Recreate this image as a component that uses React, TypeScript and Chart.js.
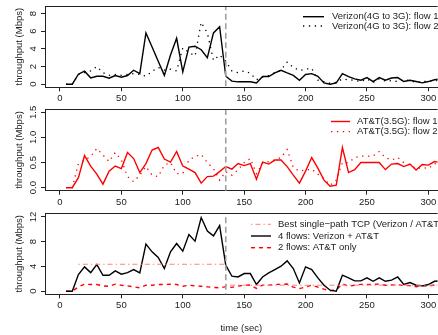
import React, { useEffect, useRef } from "react";
import { Chart, registerables } from "chart.js";

Chart.register(...registerables);

// ---------- data ----------
const times = [
  5, 10, 15, 20, 25, 30, 35, 40, 45, 50, 55, 60, 65, 70, 75, 80, 85, 90, 95, 100,
  105, 110, 115, 120, 125, 130, 135, 140, 145, 150, 155, 160, 165, 170, 175, 180, 185, 190, 195, 200,
  205, 210, 215, 220, 225, 230, 235, 240, 245, 250, 255, 260, 265, 270, 275, 280, 285, 290, 295, 300,
  305, 310,
];

const verizonFlow1 = [
  0, 0, 1.13, 1.47, 0.72, 0.9, 0.9, 0.68, 0.98, 0.79, 0.98, 1.58, 1.2, 5.8, 4.2, 2.6, 1.0, 3.3, 5.2, 1.4,
  4.2, 4.3, 3.9, 3.0, 5.8, 6.5, 0.9, 0.35, 0.27, 0.27, 0.27, 0.15, 0.87, 0.87, 1.28, 1.58, 1.28, 1.0, 0.45, 1.1,
  1.2, 0.9, 0.15, 0.0, 0.15, 1.2, 0.85, 0.6, 0.45, 0.75, 0.3, 0.75, 0.45, 0.7, 0.75, 0.3, 0.45, 0.3, 0.15, 0.3,
  0.5, 0.6,
];

const verizonFlow2 = [
  0, 0, 1.1, 1.3, 1.5, 2.0, 1.3, 1.0, 1.1, 1.0, 1.1, 1.2, 1.1, 0.9, 1.45, 1.9, 1.6, 1.7, 1.5, 4.1,
  3.6, 3.2, 7.0, 5.8, 2.7, 3.3, 2.6, 1.5, 1.3, 1.5, 1.25, 0.5, 0.8, 1.0, 1.3, 1.6, 2.5, 1.9, 1.55, 1.7,
  1.8, 0.45, 0.3, 0.1, 0.2, 0.6, 0.5, 0.45, 0.3, 0.6, 0.2, 0.6, 0.35, 0.4, 0.3, 0.5, 0.4, 0.2, 0.3, 0.35,
  0.4, 0.4,
];

const attFlow1 = [
  0, 0, 0.2, 0.64, 0.43, 0.27, 0.07, 0.33, 0.43, 0.38, 0.7, 0.58, 0.3, 0.48, 0.75, 0.8, 0.57, 0.51, 0.72, 0.43,
  0.37, 0.3, 0.09, 0.22, 0.23, 0.32, 0.42, 0.37, 0.48, 0.44, 0.48, 0.17, 0.51, 0.47, 0.55, 0.55, 0.42, 0.25, 0.09, 0.33,
  0.6, 0.39, 0.15, 0.03, 0.05, 0.8, 0.3, 0.36, 0.5, 0.5, 0.5, 0.5, 0.36, 0.47, 0.48, 0.42, 0.47, 0.35, 0.46, 0.45,
  0.52, 0.5,
];

const attFlow2 = [
  0, 0, 0.48, 0.55, 0.62, 0.78, 0.65, 0.52, 0.7, 0.55, 0.22, 0.12, 0.25, 0.42, 0.25, 0.22, 0.45, 0.5, 0.28, 0.28,
  0.55, 0.62, 0.66, 0.5, 0.38, 0.15, 0.32, 0.25, 0.35, 0.5, 0.58, 0.28, 0.48, 0.52, 0.55, 0.6, 0.76, 0.4, 0.33, 0.35,
  0.37, 0.27, 0.18, 0.05, 0.15, 0.5, 0.5, 0.6, 0.63, 0.63, 0.63, 0.72, 0.6, 0.55, 0.6, 0.5, 0.45, 0.38, 0.4, 0.38,
  0.48, 0.45,
];

const fourFlows = [
  0, 0, 2.7, 3.93, 3.0, 4.3, 2.58, 2.58, 3.29, 2.75, 3.0, 3.5, 2.96, 7.6, 6.35, 5.44, 3.66, 6.35, 7.7, 6.46,
  9.16, 8.08, 11.9, 9.7, 8.93, 10.6, 4.2, 2.42, 2.3, 2.85, 2.85, 1.08, 2.3, 2.96, 3.5, 4.04, 4.9, 3.66, 1.34, 3.93,
  3.5, 2.15, 0.97, 0.16, 0.0, 2.58, 2.15, 1.67, 1.67, 2.15, 1.6, 2.15, 1.6, 1.78, 2.3, 1.08, 1.4, 0.97, 0.86, 1.08,
  1.6, 1.7,
];

const twoFlowsAtt = [
  0, 0, 0.7, 1.13, 1.08, 1.08, 0.86, 0.8, 1.13, 0.97, 0.86, 0.7, 0.54, 0.97, 0.97, 1.08, 1.08, 1.13, 1.08, 0.8,
  0.97, 0.86, 0.8, 0.7, 0.6, 0.54, 0.74, 0.62, 0.83, 0.94, 1.0, 0.45, 0.98, 0.99, 1.1, 1.1, 1.15, 0.65, 0.42, 0.68,
  0.97, 0.66, 0.33, 0.08, 0.2, 1.2, 0.8, 0.96, 1.1, 1.1, 1.1, 1.15, 0.96, 1.0, 1.05, 0.92, 0.9, 0.73, 0.86, 0.83,
  1.0, 0.95,
];

const bestSinglePathTimes = [15, 135, 135, 135, 310];
const bestSinglePathValues: (number | null)[] = [4.35, 4.35, null, 0.97, 0.97];

const handoverTime = 135;

const xTicks = [0, 50, 100, 150, 200, 250, 300];
const yTicks1 = [0, 2, 4, 6, 8];
const yTickLabels1 = ["0", "2", "4", "6", "8"];
const yTicks2 = [0, 0.5, 1.0, 1.5];
const yTickLabels2 = ["0.0", "0.5", "1.0", "1.5"];
const yTicks3 = [0, 4, 8, 12];
const yTickLabels3 = ["0", "4", "8", "12"];

const legend1 = ["Verizon(4G to 3G): flow 1", "Verizon(4G to 3G): flow 2"];
const legend2 = ["AT&T(3.5G): flow 1", "AT&T(3.5G): flow 2"];
const legend3 = ["Best single\u2212path TCP (Verizon / AT&T)", "4 flows: Verizon + AT&T", "2 flows: AT&T only"];

const yTitle = "throughput (Mbps)";
const xTitle = "time (sec)";

// ---------- styling ----------
const FONT = "'Liberation Sans', Arial, Helvetica, sans-serif";
const FS = 9.5;
const TEXT = "#222";
const AXIS = "#222";
const W = 438;
const DOTS = [1.3, 4.6];

const pts = (xs: number[], ys: (number | null)[]) => xs.map((x, i) => ({ x, y: ys[i] }));

const framePlugin = {
  id: "frame",
  afterDraw(chart: any, _args: any, opts: any) {
    const { ctx, chartArea: a } = chart;
    ctx.save();
    ctx.strokeStyle = AXIS;
    ctx.lineWidth = 1;
    ctx.beginPath();
    const ty = Math.round(a.top) + 0.5;
    ctx.moveTo(a.left, ty);
    ctx.lineTo(a.right, ty);
    ctx.stroke();

    ctx.fillStyle = TEXT;
    ctx.font = `${FS}px ${FONT}`;
    ctx.textAlign = "center";
    ctx.textBaseline = "middle";
    const ys = chart.scales.y;
    (opts.yTicks as number[]).forEach((v, i) => {
      const py = ys.getPixelForValue(v);
      ctx.save();
      ctx.translate(opts.labelX, py);
      ctx.rotate(-Math.PI / 2);
      ctx.fillText(opts.yLabels[i], 0, 0);
      ctx.restore();
    });

    const lg = opts.legend;
    (lg.datasets as number[]).forEach((di: number, i: number) => {
      const ds = chart.data.datasets[di];
      const y = lg.ys[i];
      ctx.save();
      ctx.strokeStyle = ds.borderColor;
      ctx.lineWidth = ds.borderWidth;
      ctx.setLineDash(ds.borderDash || []);
      ctx.beginPath();
      ctx.moveTo(lg.x1, y);
      ctx.lineTo(lg.x2, y);
      ctx.stroke();
      ctx.restore();
      ctx.textAlign = "left";
      ctx.textBaseline = "middle";
      ctx.fillText(ds.label, lg.tx, y);
    });
    ctx.restore();
  },
};

function handoverDataset() {
  return {
    label: "",
    data: [
      { x: handoverTime, y: -1000 },
      { x: handoverTime, y: 1000 },
    ],
    borderColor: "#a0a0a0",
    borderWidth: 1.6,
    borderDash: [6, 3.5],
    pointRadius: 0,
  };
}

type PanelCfg = {
  height: number;
  padTop: number;
  xHeight: number;
  yMin: number;
  yMax: number;
  yTicks: number[];
  yLabels: string[];
  datasets: any[];
  legend: any;
  xTitle?: string;
};

function makeConfig(p: PanelCfg): any {
  return {
    type: "line",
    data: { datasets: p.datasets },
    options: {
      responsive: false,
      animation: false,
      events: [],
      layout: { padding: { top: p.padTop, left: 0, right: 0, bottom: 0 } },
      elements: { line: { tension: 0 }, point: { radius: 0 } },
      plugins: {
        legend: { display: false },
        tooltip: { enabled: false },
        frame: { yTicks: p.yTicks, yLabels: p.yLabels, labelX: 33.3, legend: p.legend },
      },
      scales: {
        x: {
          type: "linear",
          min: -12.2,
          max: 307.5,
          afterBuildTicks: (s: any) => {
            s.ticks = xTicks.map((v) => ({ value: v }));
          },
          afterFit: (s: any) => {
            s.height = p.xHeight;
          },
          ticks: {
            autoSkip: false,
            maxRotation: 0,
            minRotation: 0,
            padding: 1.7,
            color: TEXT,
            font: { family: FONT, size: FS },
            callback: (v: any) => String(v),
          },
          grid: { drawOnChartArea: false, drawTicks: true, tickLength: 4, color: AXIS },
          border: { display: true, color: AXIS, width: 1 },
          title: {
            display: !!p.xTitle,
            text: p.xTitle || "",
            color: TEXT,
            font: { family: FONT, size: FS },
            padding: { top: 0, bottom: 1 },
          },
        },
        y: {
          type: "linear",
          min: p.yMin,
          max: p.yMax,
          afterBuildTicks: (s: any) => {
            s.ticks = p.yTicks.map((v) => ({ value: v }));
          },
          afterFit: (s: any) => {
            s.width = 45;
          },
          ticks: { display: false },
          grid: { drawOnChartArea: false, drawTicks: true, tickLength: 4, color: AXIS },
          border: { display: true, color: AXIS, width: 1 },
          title: {
            display: true,
            text: yTitle,
            color: TEXT,
            font: { family: FONT, size: FS },
            padding: { top: 13.8, bottom: 0 },
          },
        },
      },
    },
    plugins: [framePlugin],
  };
}

const panels: PanelCfg[] = [
  {
    height: 104,
    padTop: 6,
    xHeight: 16.7,
    yMin: -0.35,
    yMax: 8.85,
    yTicks: yTicks1,
    yLabels: yTickLabels1,
    datasets: [
      handoverDataset(),
      { label: legend1[0], data: pts(times, verizonFlow1), borderColor: "#000", borderWidth: 1.4, pointRadius: 0 },
      {
        label: legend1[1],
        data: pts(times, verizonFlow2),
        borderColor: "#000",
        borderWidth: 1.3,
        borderDash: DOTS,
        pointRadius: 0,
      },
    ],
    legend: { datasets: [1, 2], x1: 303, x2: 324, tx: 332, ys: [16.7, 26] },
  },
  {
    height: 104,
    padTop: 5.3,
    xHeight: 17.3,
    yMin: -0.06,
    yMax: 1.56,
    yTicks: yTicks2,
    yLabels: yTickLabels2,
    datasets: [
      handoverDataset(),
      { label: legend2[0], data: pts(times, attFlow1), borderColor: "#ff0000", borderWidth: 1.4, pointRadius: 0 },
      {
        label: legend2[1],
        data: pts(times, attFlow2),
        borderColor: "#ff0000",
        borderWidth: 1.3,
        borderDash: DOTS,
        pointRadius: 0,
      },
    ],
    legend: { datasets: [1, 2], x1: 331, x2: 350, tx: 357, ys: [17.5, 27.7] },
  },
  {
    height: 127,
    padTop: 5.3,
    xHeight: 40.7,
    yMin: -0.5,
    yMax: 12.58,
    yTicks: yTicks3,
    yLabels: yTickLabels3,
    xTitle: xTitle,
    datasets: [
      handoverDataset(),
      {
        label: legend3[0],
        data: pts(bestSinglePathTimes, bestSinglePathValues),
        borderColor: "#ff7f7f",
        borderWidth: 1,
        borderDash: [1.4, 3, 5, 3],
        spanGaps: false,
        pointRadius: 0,
      },
      { label: legend3[1], data: pts(times, fourFlows), borderColor: "#000", borderWidth: 1.4, pointRadius: 0 },
      {
        label: legend3[2],
        data: pts(times, twoFlowsAtt),
        borderColor: "#ff0000",
        borderWidth: 1.4,
        borderDash: [4, 4],
        pointRadius: 0,
      },
    ],
    legend: { datasets: [1, 2, 3], x1: 251, x2: 271, tx: 278, ys: [16.3, 28, 39.7] },
  },
];

const tops = [0, 104, 208];

function Panel({ cfg, top }: { cfg: PanelCfg; top: number }) {
  const ref = useRef<HTMLCanvasElement | null>(null);
  useEffect(() => {
    if (!ref.current) return;
    const chart = new Chart(ref.current, makeConfig(cfg));
    return () => chart.destroy();
  }, [cfg]);
  return (
    <canvas
      ref={ref}
      width={W}
      height={cfg.height}
      style={{ position: "absolute", left: 0, top, width: W, height: cfg.height, display: "block" }}
    />
  );
}

export default function App() {
  return (
    <div style={{ position: "fixed", left: 0, top: 0, width: W, height: 335, background: "#fff", overflow: "hidden" }}>
      {panels.map((p, i) => (
        <Panel key={i} cfg={p} top={tops[i]} />
      ))}
    </div>
  );
}
